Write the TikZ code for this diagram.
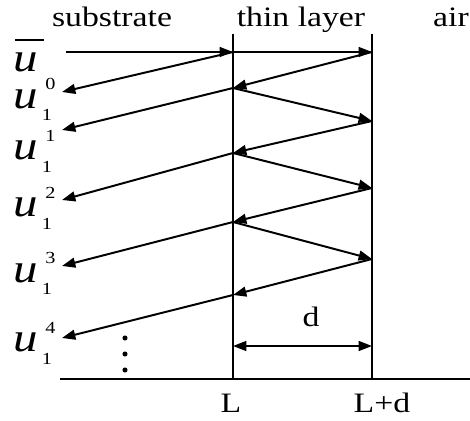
\documentclass[tikz,border=0pt]{standalone}
\usepackage{fontspec}
\setmainfont{Liberation Serif}
\usetikzlibrary{arrows.meta}

% text in the figure is set a little wide
\newcommand{\wide}[1]{\scalebox{1.2}[1]{#1}}
\newcommand{\ubar}{\wide{\fontsize{29}{30}\selectfont\rlap{\kern1pt\raisebox{22pt}{\rule{17.5pt}{1.4pt}}}\textit{u}}}
\newcommand{\ulab}[2]{\wide{\fontsize{29}{30}\selectfont\textit{u}\kern2.5pt\fontsize{12}{12}\selectfont\rlap{\kern2pt\raisebox{13pt}{#1}}\raisebox{-9pt}{#2}}}

\begin{document}
\begin{tikzpicture}[x=0.025cm,y=-0.025cm,
  tip/.style={-{Triangle[length=9.5pt,width=7pt]}},
  ray/.style={line width=1.4pt,tip},
  wall/.style={line width=1.2pt},
  lbl/.style={font=\fontsize{20}{24}\selectfont,inner sep=0pt,anchor=base},
  ulbl/.style={inner sep=0pt,anchor=base west}]
  \useasboundingbox (0,0) rectangle (470,421);
  % interfaces at L and L+d, and the axis
  \coordinate (Ltop) at (233,34);  \coordinate (Lbot) at (233,379);
  \coordinate (Rtop) at (372,34);  \coordinate (Rbot) at (372,379);
  \coordinate (axl) at (60,379);   \coordinate (axr) at (470,379);
  \draw[wall] (Ltop) -- (Lbot);
  \draw[wall] (Rtop) -- (Rbot);
  \draw[wall] (axl) -- (axr);

  % hits on L (a), on L+d (b), and ends in the substrate (c)
  \coordinate (in) at (66,52);
  \foreach \i/\y in {0/52,1/88,2/153,3/222,4/295} \coordinate (a\i) at (233,\y);
  \foreach \i/\y in {0/52,1/121,2/188,3/259} \coordinate (b\i) at (372,\y);
  \foreach \i/\y in {0/92,1/130,2/200,3/266,4/338} \coordinate (c\i) at (62,\y);

  \draw[ray] (in) -- (a0);
  \draw[ray] (a0) -- (b0);
  \foreach \i/\j in {0/1,1/2,2/3,3/4} \draw[ray] (b\i) -- (a\j);
  \foreach \i in {1,2,3} \draw[ray] (a\i) -- (b\i);
  \foreach \i in {0,...,4} \draw[ray] (a\i) -- (c\i);

  % thickness
  \coordinate (dl) at (233,346);  \coordinate (dr) at (372,346);
  \draw[line width=1.4pt,{Triangle[length=9.5pt,width=7pt]}-{Triangle[length=9.5pt,width=7pt]}] (dl) -- (dr);
  \node[lbl] (dlab) at (311,327) {\wide{d}};

  \foreach \y in {338,354,370} \fill (125,\y) circle (1.8pt);

  \node[lbl] (sub) at (112,27) {\wide{substrate}};
  \node[lbl] (layer) at (301,27) {\wide{thin layer}};
  \node[lbl] (air) at (451,27) {\wide{air}};
  \node[lbl] (Llab) at (231,413) {\wide{L}};
  \node[lbl] (Rlab) at (382,413) {\wide{L+d}};

  \node[ulbl] (ub) at (13,72) {\ubar};
  \node[ulbl] (u0) at (13,108) {\ulab{0}{1}};
  \node[ulbl] (u1) at (13,160) {\ulab{1}{1}};
  \node[ulbl] (u2) at (13,217) {\ulab{2}{1}};
  \node[ulbl] (u3) at (13,282) {\ulab{3}{1}};
  \node[ulbl] (u4) at (13,352) {\ulab{4}{1}};
\end{tikzpicture}
\end{document}
